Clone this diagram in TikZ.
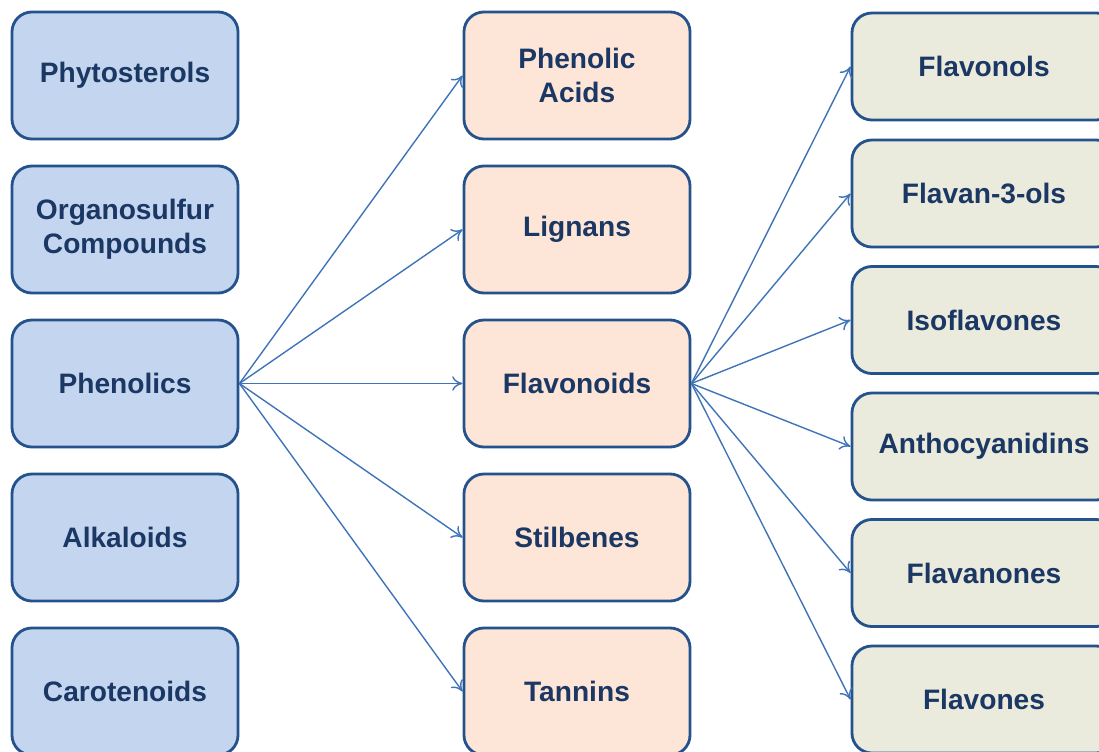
\documentclass[tikz,border=0pt]{standalone}
\usepackage{fontspec}
\setmainfont{Liberation Sans}
\usetikzlibrary{arrows.meta}

\definecolor{boxline}{HTML}{24528C}
\definecolor{boxtext}{HTML}{1B3763}
\definecolor{arrowblue}{HTML}{3F74B8}
\definecolor{classfill}{HTML}{C4D6EF}
\definecolor{phenolfill}{HTML}{FDE6D7}
\definecolor{flavfill}{HTML}{EBEBDD}

\begin{document}
\begin{tikzpicture}[
        x=0.025cm, y=-0.025cm,
        box/.style={draw=boxline, line width=2pt, rounded corners=0.5cm,
            text=boxtext, align=center, font=\fontsize{20}{24}\selectfont\bfseries},
        classbox/.style={box, fill=classfill, minimum width=5.65cm, minimum height=3.175cm},
        phenolbox/.style={box, fill=phenolfill, minimum width=5.65cm, minimum height=3.175cm},
        flavbox/.style={box, fill=flavfill, minimum width=6.6cm, minimum height=2.675cm},
        link/.style={-{To[length=2.6mm, width=3.6mm]}, draw=arrowblue, line width=1pt}
    ]

        \useasboundingbox (0,0) rectangle (1099,751);
        \clip (0,0) rectangle (1099,751);

        % Phytochemical classes
        \node[classbox] (phyto) at (125,75.5) {Phytosterols};
        \node[classbox] (organo) at (125,229.5) {Organosulfur\\Compounds};
        \node[classbox] (phenolics) at (125,383.5) {Phenolics};
        \node[classbox] (alka) at (125,537.5) {Alkaloids};
        \node[classbox] (carot) at (125,691.5) {Carotenoids};

        % Phenolic groups
        \node[phenolbox] (acids) at (577,75.5) {Phenolic\\Acids};
        \node[phenolbox] (lignans) at (577,229.5) {Lignans};
        \node[phenolbox] (flavonoids) at (577,383.5) {Flavonoids};
        \node[phenolbox] (stilb) at (577,537.5) {Stilbenes};
        \node[phenolbox] (tannins) at (577,691.5) {Tannins};

        % Flavonoid subclasses
        \node[flavbox] (flavonols) at (984,66.5) {Flavonols};
        \node[flavbox] (flavanols) at (984,193.5) {Flavan-3-ols};
        \node[flavbox] (isoflav) at (984,320) {Isoflavones};
        \node[flavbox] (antho) at (984,446.5) {Anthocyanidins};
        \node[flavbox] (flavanones) at (984,573) {Flavanones};
        \node[flavbox] (flavones) at (984,699.5) {Flavones};

        % Phenolics -> groups
        \draw[link] (phenolics.east) -- (acids.west);
        \draw[link] (phenolics.east) -- (lignans.west);
        \draw[link] (phenolics.east) -- (flavonoids.west);
        \draw[link] (phenolics.east) -- (stilb.west);
        \draw[link] (phenolics.east) -- (tannins.west);

        % Flavonoids -> subclasses
        \draw[link] (flavonoids.east) -- (flavonols.west);
        \draw[link] (flavonoids.east) -- (flavanols.west);
        \draw[link] (flavonoids.east) -- (isoflav.west);
        \draw[link] (flavonoids.east) -- (antho.west);
        \draw[link] (flavonoids.east) -- (flavanones.west);
        \draw[link] (flavonoids.east) -- (flavones.west);

    \end{tikzpicture}
\end{document}
